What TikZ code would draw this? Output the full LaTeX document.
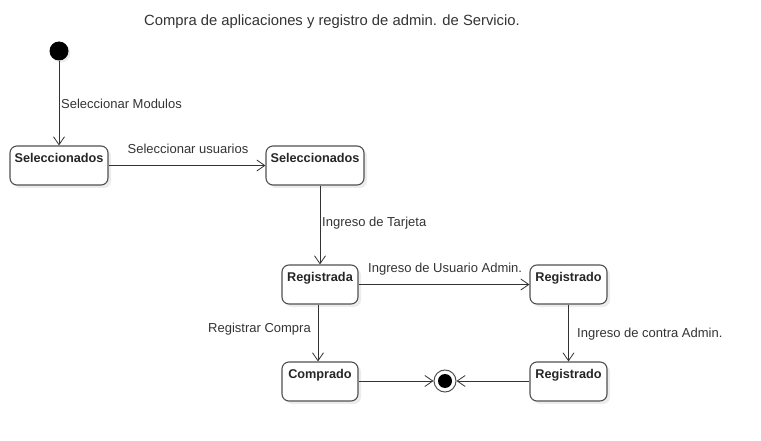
\documentclass[tikz,border=0pt]{standalone}
\usepackage{fontspec}
\setmainfont{Liberation Sans}
\usetikzlibrary{arrows.meta,shadows}
\definecolor{linec}{HTML}{333333}
\definecolor{boxc}{HTML}{505050}
\definecolor{txtc}{HTML}{333333}
\tikzset{
  statebox/.style={draw=boxc, line width=1.1pt, rounded corners=7pt, fill=white,
    inner sep=0pt, drop shadow={shadow xshift=3pt, shadow yshift=-3pt, fill=black!12, opacity=0.6}},
  stname/.style={font=\bfseries\fontsize{12.7}{14}\selectfont, text=black!85, anchor=north, yshift=-4pt},
  trans/.style={draw=linec, line width=0.8pt, -{Straight Barb[length=8pt,width=11pt,line width=0.8pt]}},
  lbl/.style={font=\fontsize{13}{15}\selectfont, text=txtc, inner sep=0pt},
}
\begin{document}
\begin{tikzpicture}[x=1pt,y=-1pt]
\useasboundingbox (0,0) rectangle (761,441);
\node[lbl, font=\fontsize{14.8}{16}\selectfont] (title) at (332,22) {Compra de aplicaciones y registro de admin. de Servicio.};
% initial
\node[circle, fill=black, minimum size=19pt, inner sep=0pt, drop shadow={shadow xshift=2pt, shadow yshift=-2pt, fill=black!12, opacity=0.6}] (init) at (59,51) {};
% states
\node[statebox, minimum width=98pt, minimum height=39pt, label={[stname]north:Seleccionados}] (s1) at (59,165.5) {};
\node[statebox, minimum width=98pt, minimum height=39pt, label={[stname]north:Seleccionados}] (s2) at (315,165.5) {};
\node[statebox, minimum width=76pt, minimum height=39pt, label={[stname]north:Registrada}] (ra) at (320,284.5) {};
\node[statebox, minimum width=77pt, minimum height=39pt, label={[stname]north:Registrado}] (ro1) at (568.5,284.5) {};
\node[statebox, minimum width=76pt, minimum height=39pt, label={[stname]north:Comprado}] (co) at (320,381.5) {};
\node[statebox, minimum width=77pt, minimum height=39pt, label={[stname]north:Registrado}] (ro2) at (568.5,381.5) {};
% final
\node[circle, draw=boxc, line width=1pt, fill=white, minimum size=22pt, inner sep=0pt] (fin) at (445,381) {};
\node[circle, fill=black, minimum size=14pt, inner sep=0pt] (finin) at (fin.center) {};
% transitions
\draw[trans] (init) -- (s1.north);
\node[lbl, anchor=west] (l1) at (61,104) {Seleccionar Modulos};
\draw[trans] (s1.east) -- (s2.west);
\node[lbl] (l2) at (188,149) {Seleccionar usuarios};
\draw[trans] (s2.south -| ra.north) -- (ra.north);
\node[lbl, anchor=west] (l3) at (322,223) {Ingreso de Tarjeta};
\draw[trans] (ra.east) -- (ro1.west);
\node[lbl, anchor=west] (l4) at (368,269) {Ingreso de Usuario Admin.};
\draw[trans] (ra.south -| 318,0) -- (co.north -| 318,0);
\node[lbl, anchor=east] (l5) at (311,329) {Registrar Compra};
\draw[trans] (ro1.south) -- (ro2.north);
\node[lbl, anchor=west] (l6) at (577,334) {Ingreso de contra Admin.};
\draw[trans] (co.east |- fin) -- (fin.west);
\draw[trans] (ro2.west |- fin) -- (fin.east);
\end{tikzpicture}
\end{document}
